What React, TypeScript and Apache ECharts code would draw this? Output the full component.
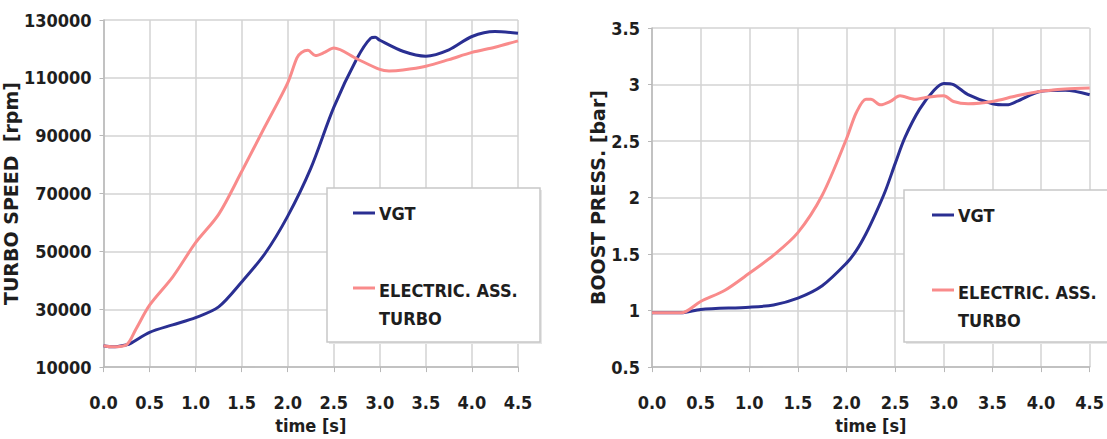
import React, { useEffect, useRef } from "react";
import * as echarts from "echarts";

const timesTurboVgt = [0, 0.1, 0.25, 0.3, 0.5, 0.75, 1.0, 1.25, 1.5, 1.75, 2.0, 2.25, 2.5, 2.75, 2.9, 2.95, 3.0, 3.25, 3.5, 3.75, 4.0, 4.25, 4.5];
const turboVgt = [17400, 17000, 17700, 18300, 22000, 24600, 27100, 30800, 39400, 49100, 62200, 78700, 99800, 116600, 123700, 124000, 123000, 119200, 117500, 119700, 124300, 126000, 125400];

const timesTurboElec = [0, 0.1, 0.25, 0.35, 0.5, 0.75, 1.0, 1.25, 1.5, 1.75, 2.0, 2.1, 2.15, 2.22, 2.3, 2.4, 2.5, 2.75, 3.0, 3.1, 3.25, 3.5, 3.75, 4.0, 4.25, 4.5];
const turboElec = [17400, 17000, 17700, 23000, 31400, 41100, 53000, 62800, 77600, 93000, 108300, 116900, 118800, 119500, 117700, 118800, 120300, 116600, 112900, 112400, 112700, 114000, 116300, 118800, 120600, 122800];

const timesBoostVgt = [0, 0.3, 0.5, 1.0, 1.25, 1.5, 1.75, 2.0, 2.1, 2.2, 2.3, 2.4, 2.5, 2.6, 2.75, 2.9, 3.0, 3.1, 3.25, 3.5, 3.65, 3.75, 4.0, 4.25, 4.5];
const boostVgt = [0.98, 0.98, 1.01, 1.03, 1.05, 1.11, 1.22, 1.42, 1.53, 1.68, 1.86, 2.06, 2.3, 2.53, 2.78, 2.95, 3.01, 3.0, 2.91, 2.83, 2.82, 2.85, 2.94, 2.95, 2.91];

const timesBoostElec = [0, 0.3, 0.5, 0.75, 1.0, 1.25, 1.5, 1.75, 2.0, 2.1, 2.2, 2.25, 2.35, 2.45, 2.55, 2.7, 2.85, 3.0, 3.1, 3.25, 3.5, 3.75, 4.0, 4.25, 4.5];
const boostElec = [0.98, 0.98, 1.08, 1.18, 1.33, 1.49, 1.69, 2.02, 2.52, 2.75, 2.87, 2.87, 2.82, 2.85, 2.9, 2.87, 2.89, 2.9, 2.85, 2.83, 2.85, 2.9, 2.94, 2.96, 2.97];

const legendVgt = "VGT";
const legendElec1 = "ELECTRIC. ASS.";
const legendElec2 = "TURBO";

const BLUE = "#2a2f92";
const PINK = "#f98b8b";
const GRID = "#d3d3d3";
const TEXT = "#1e1e1e";
const FONT = "'Liberation Sans Narrow', 'DejaVu Sans Condensed', 'Liberation Sans', Arial, sans-serif";
const NAME_FONT = "'DejaVu Sans', 'Liberation Sans', Arial, sans-serif";

const pair = (t: number[], v: number[]) => t.map((x, i) => [x, v[i]]);

function legendBox(x: number, y: number, w: number, h: number, lineX: number) {
  const textX = lineX + 26;
  return {
    type: "group",
    children: [
      { type: "rect", shape: { x: x + 2, y: y + 2, width: w, height: h }, style: { fill: "#e6e6e6" }, z: 10 },
      { type: "rect", shape: { x, y, width: w, height: h }, style: { fill: "#fff", stroke: "#c8c8c8", lineWidth: 1.5 }, z: 11 },
      { type: "line", shape: { x1: lineX, y1: y + 25, x2: lineX + 22, y2: y + 25 }, style: { stroke: BLUE, lineWidth: 3 }, z: 12 },
      { type: "text", x: textX, y: y + 25, style: { text: legendVgt, font: `bold 18px ${FONT}`, fill: TEXT, verticalAlign: "middle" }, z: 12 },
      { type: "line", shape: { x1: lineX, y1: y + 100, x2: lineX + 22, y2: y + 100 }, style: { stroke: PINK, lineWidth: 3 }, z: 12 },
      { type: "text", x: textX, y: y + 102, style: { text: legendElec1, font: `bold 18px ${FONT}`, fill: TEXT, verticalAlign: "middle" }, z: 12 },
      { type: "text", x: textX, y: y + 130, style: { text: legendElec2, font: `bold 18px ${FONT}`, fill: TEXT, verticalAlign: "middle" }, z: 12 },
    ],
  };
}

export default function App() {
  const ref = useRef<HTMLDivElement>(null);
  useEffect(() => {
    if (!ref.current) return;
    const chart = echarts.init(ref.current, undefined, { renderer: "svg" });
    const xAxisBase = (gridIndex: number) => ({
      type: "value",
      gridIndex,
      min: 0,
      max: 4.5,
      interval: 0.5,
      name: "time [s]",
      nameLocation: "middle",
      nameGap: 47,
      nameTextStyle: { color: TEXT, fontFamily: FONT, fontWeight: "bold", fontSize: 18 },
      axisLine: { show: true, lineStyle: { color: "#b8b8b8", width: 1.5 } },
      axisTick: { show: true, length: 5, lineStyle: { color: "#b8b8b8" } },
      axisLabel: {
        color: TEXT,
        fontFamily: FONT,
        fontWeight: "bold",
        fontSize: 18,
        margin: 26,
        formatter: (v: number) => v.toFixed(1),
      },
      splitLine: { show: true, lineStyle: { color: GRID, width: 1.5 } },
    });
    const yAxisBase = (gridIndex: number, min: number, max: number, interval: number, name: string, nameGap: number) => ({
      type: "value",
      gridIndex,
      min,
      max,
      interval,
      name,
      nameLocation: "middle",
      nameGap,
      nameTextStyle: { color: TEXT, fontFamily: NAME_FONT, fontWeight: "bold", fontSize: 19 },
      axisLine: { show: true, lineStyle: { color: "#b8b8b8", width: 1.5 } },
      axisTick: { show: true, length: 4, lineStyle: { color: "#b8b8b8" } },
      axisLabel: { color: TEXT, fontFamily: FONT, fontWeight: "bold", fontSize: 18, margin: 12, formatter: (v: number) => String(v) },
      splitLine: { show: true, lineStyle: { color: GRID, width: 1.5 } },
    });
    const lineSeries = (name: string, data: number[][], color: string, idx: number) => ({
      type: "line",
      name,
      xAxisIndex: idx,
      yAxisIndex: idx,
      data,
      smooth: 0.3,
      showSymbol: false,
      lineStyle: { color, width: 3 },
      itemStyle: { color },
      z: 3,
    });
    chart.setOption({
      animation: false,
      backgroundColor: "#ffffff",
      grid: [
        { left: 98, top: 20, width: 420, height: 352 },
        { left: 652, top: 28, width: 441, height: 341 },
      ],
      xAxis: [xAxisBase(0), xAxisBase(1)],
      yAxis: [
        yAxisBase(0, 10000, 130000, 20000, "TURBO SPEED  [rpm]", 63),
        yAxisBase(1, 0.5, 3.5, 0.5, "BOOST PRESS. [bar]", 40),
      ],
      series: [
        lineSeries("VGT", pair(timesTurboVgt, turboVgt), BLUE, 0),
        lineSeries("ELECTRIC. ASS. TURBO", pair(timesTurboElec, turboElec), PINK, 0),
        lineSeries("VGT", pair(timesBoostVgt, boostVgt), BLUE, 1),
        lineSeries("ELECTRIC. ASS. TURBO", pair(timesBoostElec, boostElec), PINK, 1),
      ],
      graphic: [legendBox(327, 188, 213, 154, 353), legendBox(904, 190, 215, 152, 932)],
    });
    return () => chart.dispose();
  }, []);
  return <div ref={ref} style={{ position: "fixed", left: 0, top: 0, width: 1107, height: 439 }} />;
}
